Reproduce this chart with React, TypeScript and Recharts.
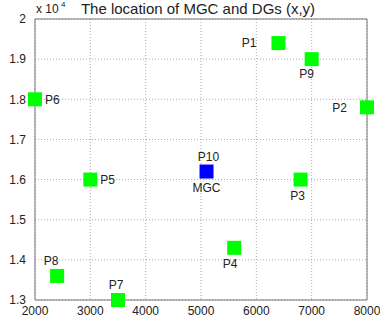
import { ScatterChart, Scatter, XAxis, YAxis, CartesianGrid, ReferenceLine } from "recharts";

const dgNames = ["P1", "P2", "P3", "P4", "P5", "P6", "P7", "P8", "P9"];
const dgX = [6400, 8000, 6800, 5600, 3000, 2000, 3500, 2400, 7000];
const dgY = [19400, 17800, 16000, 14300, 16000, 18000, 13000, 13600, 19000];

const mgcX = [5100];
const mgcY = [16200];

const xTicks = [2000, 3000, 4000, 5000, 6000, 7000, 8000];
const yTicks = [13000, 14000, 15000, 16000, 17000, 18000, 19000, 20000];

// where each label sits relative to its square
const labelPos: Record<string, { dx: number; dy: number; anchor: "start" | "middle" | "end" }> = {
  P1: { dx: -22, dy: 0, anchor: "end" },
  P2: { dx: -20, dy: 0, anchor: "end" },
  P3: { dx: -3, dy: 16, anchor: "middle" },
  P4: { dx: -4, dy: 16, anchor: "middle" },
  P5: { dx: 10, dy: 0, anchor: "start" },
  P6: { dx: 10, dy: 1, anchor: "start" },
  P7: { dx: -2, dy: -15, anchor: "middle" },
  P8: { dx: -6, dy: -15, anchor: "middle" },
  P9: { dx: -5, dy: 15, anchor: "middle" },
};

const dgData = dgNames.map((name, i) => ({ name, x: dgX[i], y: dgY[i] }));
const mgcData = mgcX.map((x, i) => ({ x, y: mgcY[i] }));

const font = "'Liberation Sans', Arial, sans-serif";

function DgShape(props: any) {
  const { cx, cy, payload } = props;
  const p = labelPos[payload.name];
  return (
    <g>
      <rect x={cx - 7} y={cy - 7} width={14} height={14} fill="#00ff00" />
      <text x={cx + p.dx} y={cy + p.dy} dy="0.35em" textAnchor={p.anchor} fontSize={12} fontFamily={font} fill="#222">
        {payload.name}
      </text>
    </g>
  );
}

function MgcShape(props: any) {
  const { cx, cy } = props;
  return (
    <g>
      <rect x={cx - 7} y={cy - 7} width={14} height={14} fill="#0000ff" />
      <text x={cx + 2} y={cy - 15} dy="0.35em" textAnchor="middle" fontSize={12} fontFamily={font} fill="#222">P10</text>
      <text x={cx} y={cy + 16} dy="0.35em" textAnchor="middle" fontSize={12} fontFamily={font} fill="#222">MGC</text>
    </g>
  );
}

export default function App() {
  return (
    <div style={{ position: "absolute", left: 0, top: 0, width: 380, height: 321, background: "#fff" }}>
      <ScatterChart width={380} height={321} margin={{ top: 19, right: 13, left: 0, bottom: 0 }}>
        <CartesianGrid stroke="#aaa" strokeDasharray="1 2" />
        <XAxis
          type="number"
          dataKey="x"
          domain={[2000, 8000]}
          ticks={xTicks}
          height={21}
          tickLine={false}
          axisLine={false}
          tick={{ fontSize: 12, fill: "#222", fontFamily: font }}
          tickMargin={0}
        />
        <YAxis
          type="number"
          dataKey="y"
          domain={[13000, 20000]}
          ticks={yTicks}
          width={35}
          tickLine={false}
          axisLine={false}
          tickFormatter={(v: number) => String(v / 10000)}
          tick={{ fontSize: 12, fill: "#222", fontFamily: font }}
          tickMargin={3}
        />
        <ReferenceLine x={2000} stroke="#777" />
        <ReferenceLine x={8000} stroke="#777" />
        <ReferenceLine y={13000} stroke="#777" />
        <ReferenceLine y={20000} stroke="#777" />
        <Scatter data={dgData} shape={DgShape} isAnimationActive={false} />
        <Scatter data={mgcData} shape={MgcShape} isAnimationActive={false} />
        <text x={36} y={13} fontSize={12} fontFamily={font} fill="#222">x 10</text>
        <text x={61} y={7} fontSize={8} fontFamily={font} fill="#222">4</text>
        <text x={198} y={14} textAnchor="middle" fontSize={15} fontFamily={font} fill="#222">
          The location of MGC and DGs (x,y)
        </text>
      </ScatterChart>
    </div>
  );
}
